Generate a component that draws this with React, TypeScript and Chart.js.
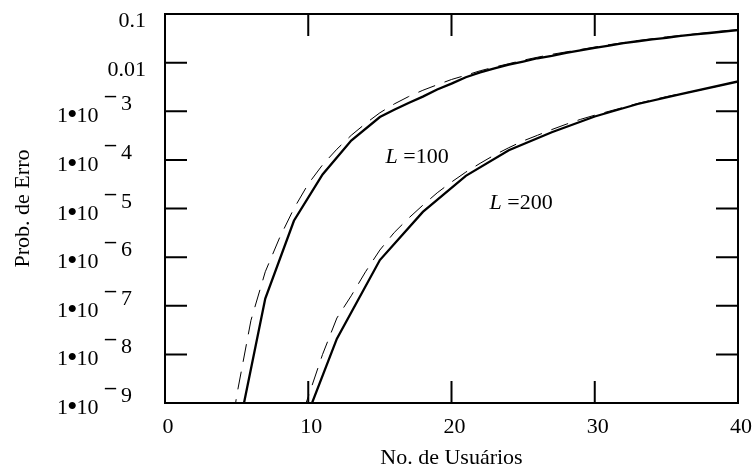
import { useEffect, useRef } from "react";
import { Chart, registerables } from "chart.js";

Chart.register(...registerables);

// L = 100, simulated (solid)
const usersL100Sim = [5, 7, 9, 11, 13, 15, 16, 17, 18, 19, 20, 21, 22, 23, 24, 25, 26, 27, 28, 29, 30, 31, 32, 33, 34, 35, 36, 37, 38, 39, 40];
const probL100Sim = [1.8e-10, 1.4e-7, 5.6e-6, 5.0e-5, 2.5e-4, 7.6e-4, 1.07e-3, 1.48e-3, 2.0e-3, 2.8e-3, 3.7e-3, 5.0e-3, 6.3e-3, 7.6e-3, 9.1e-3, 0.0105, 0.0123, 0.0138, 0.0158, 0.0178, 0.02, 0.0224, 0.0251, 0.0275, 0.03, 0.0324, 0.0355, 0.038, 0.0407, 0.0437, 0.0468];

// L = 100, theory (dashed)
const usersL100Theory = [4, 5, 6, 7, 8, 9, 10, 11, 12, 13, 14, 15, 16, 17, 18, 19, 20, 21, 22, 23, 24, 25, 26, 27, 28, 29, 30, 31, 32, 33, 34, 35, 36, 37, 38, 39, 40];
const probL100Theory = [1e-11, 1.4e-9, 5.0e-8, 5.0e-7, 2.5e-6, 1.0e-5, 3.2e-5, 7.9e-5, 1.66e-4, 3.2e-4, 5.6e-4, 9.3e-4, 1.41e-3, 2.0e-3, 2.7e-3, 3.5e-3, 4.5e-3, 5.5e-3, 6.8e-3, 8.1e-3, 9.5e-3, 0.0112, 0.0129, 0.0148, 0.0166, 0.0186, 0.0209, 0.0234, 0.0257, 0.0282, 0.0309, 0.0339, 0.0363, 0.0389, 0.0417, 0.0447, 0.0479];

// L = 200, simulated (solid)
const usersL200Sim = [10, 12, 15, 18, 21, 24, 27, 30, 33, 36, 40];
const probL200Sim = [6.3e-10, 2.1e-8, 8.7e-7, 8.5e-6, 4.7e-5, 1.58e-4, 3.7e-4, 7.8e-4, 1.41e-3, 2.24e-3, 4.1e-3];

// L = 200, theory (dashed)
const usersL200Theory = [9, 10, 11, 12, 13, 14, 15, 16, 17, 18, 19, 20, 21, 22, 23, 24, 25, 26, 27, 28, 29, 30, 31, 32, 33, 34, 35, 36, 37, 38, 39, 40];
const probL200Theory = [1.9e-10, 1.35e-9, 1e-8, 5.6e-8, 1.6e-7, 5.0e-7, 1.4e-6, 3.2e-6, 6.3e-6, 1.17e-5, 2.1e-5, 3.5e-5, 5.6e-5, 8.5e-5, 1.26e-4, 1.78e-4, 2.45e-4, 3.2e-4, 4.2e-4, 5.4e-4, 6.8e-4, 8.3e-4, 1.0e-3, 1.2e-3, 1.45e-3, 1.7e-3, 2.0e-3, 2.3e-3, 2.6e-3, 3.0e-3, 3.5e-3, 4.2e-3];

const xTicks = [0, 10, 20, 30, 40];
const xTickLabels = ["0", "10", "20", "30", "40"];
const yTicks = [0.1, 0.01, 1e-3, 1e-4, 1e-5, 1e-6, 1e-7, 1e-8, 1e-9];
const yTickPlain = ["0.1", "0.01", "", "", "", "", "", "", ""];
const yTickExponents = ["", "", "3", "4", "5", "6", "7", "8", "9"];

const curveLabels = ["=100", "=200"];
const curveLabelUsers = [15.4, 22.66];
const curveLabelProbs = [8.5e-5, 1.0e-5];

const xTitle = "No. de Usuários";
const yTitle = "Prob. de Erro";

const FONT = "'Liberation Serif', 'Times New Roman', serif";

function zip(xs: number[], ys: number[]) {
  return xs.map((x, i) => ({ x, y: ys[i] }));
}

const framePlugin = {
  id: "framePlugin",
  afterDraw(chart: any) {
    const { ctx, chartArea } = chart;
    const xs = chart.scales.x;
    const ys = chart.scales.y;
    const { left, right, top, bottom } = chartArea;
    ctx.save();
    ctx.strokeStyle = "#000";
    ctx.fillStyle = "#000";
    ctx.lineWidth = 2;
    ctx.strokeRect(left, top, right - left, bottom - top);
    const tl = 22;
    ctx.beginPath();
    xTicks.forEach((v) => {
      const px = xs.getPixelForValue(v);
      ctx.moveTo(px, bottom);
      ctx.lineTo(px, bottom - tl);
      ctx.moveTo(px, top);
      ctx.lineTo(px, top + tl);
    });
    yTicks.forEach((v) => {
      const py = ys.getPixelForValue(v);
      ctx.moveTo(left, py);
      ctx.lineTo(left + tl, py);
      ctx.moveTo(right, py);
      ctx.lineTo(right - tl, py);
    });
    ctx.stroke();

    const f = `22px ${FONT}`;
    ctx.font = f;
    // x tick labels
    ctx.textAlign = "center";
    ctx.textBaseline = "alphabetic";
    xTicks.forEach((v, i) => {
      const px = xs.getPixelForValue(v);
      ctx.fillText(xTickLabels[i], px + 3, bottom + 30);
    });
    // y tick labels
    yTicks.forEach((v, i) => {
      const py = ys.getPixelForValue(v);
      const exp = yTickExponents[i];
      if (!exp) {
        ctx.textAlign = "right";
        ctx.fillText(yTickPlain[i], left - 19, py + 13);
      } else {
        ctx.textAlign = "left";
        let x = left - 108;
        ctx.font = f;
        ctx.fillText("1", x, py + 11);
        x += ctx.measureText("1").width - 1;
        ctx.font = `30px ${FONT}`;
        ctx.fillText("•", x, py + 13);
        x += ctx.measureText("•").width - 1;
        ctx.font = f;
        ctx.fillText("10", x, py + 11);
        ctx.font = `bold 22px ${FONT}`;
        ctx.fillText("\u2013", left - 60, py - 9);
        ctx.font = f;
        ctx.fillText(exp, left - 44, py - 1);
      }
    });
    // axis titles
    ctx.font = f;
    ctx.textAlign = "center";
    ctx.fillText(xTitle, (left + right) / 2, 464);
    ctx.save();
    ctx.translate(29, (top + bottom) / 2);
    ctx.rotate(-Math.PI / 2);
    ctx.fillText(yTitle, 0, 0);
    ctx.restore();

    // curve labels
    ctx.textAlign = "left";
    curveLabels.forEach((t, i) => {
      const px = xs.getPixelForValue(curveLabelUsers[i]);
      const py = ys.getPixelForValue(curveLabelProbs[i]);
      ctx.font = `italic 22px ${FONT}`;
      ctx.fillText("L", px, py);
      const w = ctx.measureText("L ").width;
      ctx.font = f;
      ctx.fillText(t, px + w, py);
    });
    ctx.restore();
  },
};

export default function App() {
  const ref = useRef<HTMLCanvasElement | null>(null);
  useEffect(() => {
    document.body.style.margin = "0";
    const canvas = ref.current;
    if (!canvas) return;
    const solid = { borderColor: "#000", borderWidth: 2.3, pointRadius: 0, tension: 0, fill: false };
    const dashed = { borderColor: "#000", borderWidth: 1, borderDash: [18, 10], pointRadius: 0, tension: 0, fill: false };
    const chart = new Chart(canvas, {
      type: "line",
      data: {
        datasets: [
          { ...solid, label: "L=100 sim", data: zip(usersL100Sim, probL100Sim) },
          { ...dashed, label: "L=100 teo", data: zip(usersL100Theory, probL100Theory) },
          { ...solid, label: "L=200 sim", data: zip(usersL200Sim, probL200Sim) },
          { ...dashed, label: "L=200 teo", data: zip(usersL200Theory, probL200Theory) },
        ] as any,
      },
      options: {
        animation: false,
        responsive: true,
        maintainAspectRatio: false,
        layout: { padding: { top: 14, right: 16, left: 0, bottom: 0 } },
        plugins: { legend: { display: false }, tooltip: { enabled: false } },
        scales: {
          x: {
            type: "linear",
            min: 0,
            max: 40,
            ticks: { display: false },
            grid: { display: false },
            border: { display: false },
            afterFit(s: any) {
              s.height = 66;
            },
          },
          y: {
            type: "logarithmic",
            min: 1e-9,
            max: 0.1,
            ticks: { display: false },
            grid: { display: false },
            border: { display: false },
            afterFit(s: any) {
              s.width = 165;
            },
          },
        },
      } as any,
      plugins: [framePlugin],
    });
    return () => chart.destroy();
  }, []);
  return (
    <div style={{ position: "relative", width: 754, height: 469, background: "#fff" }}>
      <canvas ref={ref} />
    </div>
  );
}
